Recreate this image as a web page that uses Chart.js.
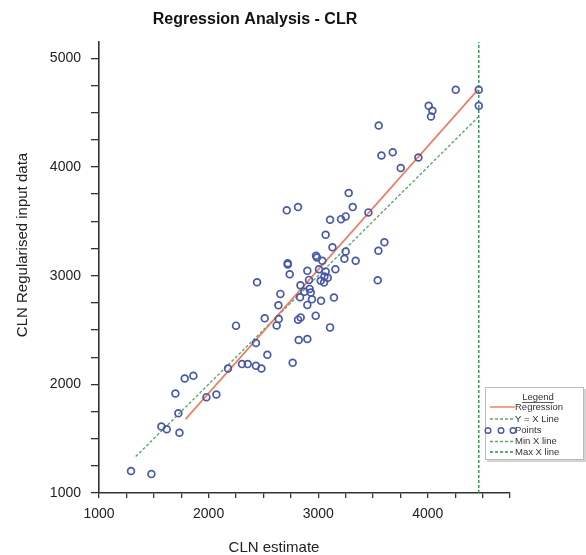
<!DOCTYPE html>
<html>
<head>
<meta charset="utf-8">
<script src="https://cdn.jsdelivr.net/npm/chart.js@4"></script>
<style>
  body { margin: 0; background: #fff; }
  #wrap { width: 586px; height: 555px; }
</style>
</head>
<body>
<div id="wrap"><canvas id="regChart" width="586" height="555"></canvas></div>
<script>
// CLN estimate (x) vs CLN regularised input data (y)
const estX = [
    1292, 1478, 1569, 1618, 1734, 1724, 1697, 1782, 1861, 1980,
    2071, 2177, 2305, 2357, 2432, 2482, 2536, 2767, 2432, 2822,
    2901, 2250, 2621, 3108, 2512, 2640, 2840, 2816, 2977, 2637,
    2901, 2655, 2834, 2943, 3026, 3144, 2874, 2932, 2922, 2838,
    2442, 2916, 3023, 3053, 3057, 3087, 2740, 2901, 3007, 3068,
    3157, 3543, 2722, 2722, 2980, 2989, 3038, 3239, 3342, 3130,
    3251, 3549, 3604, 3068, 3108, 3208, 3251, 3458, 3315, 3278,
    2713, 2816, 3753, 3914, 3577, 3680, 3552, 4008, 4042, 4029,
    4255, 4465, 4465
];
const inputY = [
    1202, 1174, 1611, 1587, 1555, 1734, 1915, 2054, 2078, 1882,
    1906, 2146, 2186, 2186, 2171, 2146, 2272, 2198, 2380, 2408,
    2417, 2540, 2542, 2524, 2607, 2601, 2616, 2595, 2632, 2727,
    2731, 2832, 2801, 2782, 2768, 2798, 2853, 2844, 2878, 2911,
    2939, 2961, 2952, 2936, 2992, 2980, 3013, 3044, 3059, 3038,
    3059, 2958, 3114, 3102, 3183, 3167, 3137, 3155, 3137, 3262,
    3222, 3229, 3308, 3376, 3515, 3520, 3545, 3582, 3631, 3760,
    3601, 3631, 3991, 4087, 4105, 4136, 4382, 4563, 4517, 4465,
    4710, 4710, 4563
];

// line end points
const regX = [1790, 4458];
const regY = [1680, 4712];
const yxX = [1335, 4460];
const maxX = 4465;
const maxLineY = [1000, 5150];

const legendItems = ['Regression', 'Y = X Line', 'Points', 'Min X line', 'Max X line'];

const ptColor = '#4a58a8';
const regColor = '#f07a5e';
const greenLight = '#5aa872';
const greenDark = '#2f8f50';

function pairs(xs, ys) {
    return xs.map(function(x, i) { return { x: x, y: ys[i] }; });
}

const extras = {
    id: 'extras',
    afterDraw: function(chart) {
        const ctx = chart.ctx;
        ctx.save();
        // axis titles
        ctx.fillStyle = '#222';
        ctx.font = '15px "Liberation Sans", Arial, sans-serif';
        ctx.textAlign = 'center';
        ctx.textBaseline = 'middle';
        ctx.fillText('CLN estimate', 274, 548);
        ctx.translate(22.5, 245);
        ctx.rotate(-Math.PI / 2);
        ctx.fillText('CLN Regularised input data', 0, 0);
        ctx.restore();

        // legend box
        ctx.save();
        const bx = 485, by = 387, bw = 99, bh = 73;
        ctx.fillStyle = '#d4d4d4';
        ctx.fillRect(bx + 2, by + 2, bw, bh);
        ctx.fillStyle = '#fff';
        ctx.fillRect(bx, by, bw, bh);
        ctx.strokeStyle = '#bbb';
        ctx.lineWidth = 1;
        ctx.strokeRect(bx + 0.5, by + 0.5, bw - 1, bh - 1);

        ctx.fillStyle = '#333';
        ctx.font = '9.5px "Liberation Sans", Arial, sans-serif';
        ctx.textAlign = 'center';
        ctx.textBaseline = 'middle';
        ctx.fillText('Legend', 538, 397);
        const lw = ctx.measureText('Legend').width;
        ctx.fillRect(538 - lw / 2, 402, lw, 0.8);

        ctx.textAlign = 'left';
        const rows = [407, 419, 430.5, 441.5, 452];
        legendItems.forEach(function(label, i) {
            const y = rows[i];
            ctx.fillStyle = '#333';
            ctx.fillText(label, 515, y);
            if (label === 'Points') {
                ctx.strokeStyle = ptColor;
                ctx.lineWidth = 1.4;
                [488, 501, 513].forEach(function(cx) {
                    ctx.beginPath();
                    ctx.arc(cx, y, 2.8, 0, Math.PI * 2);
                    ctx.stroke();
                });
            } else {
                ctx.beginPath();
                ctx.lineWidth = 1.4;
                if (label === 'Regression') {
                    ctx.strokeStyle = regColor;
                    ctx.setLineDash([]);
                } else {
                    ctx.strokeStyle = label === 'Max X line' ? greenDark : greenLight;
                    ctx.setLineDash([3, 2]);
                }
                ctx.moveTo(490, y);
                ctx.lineTo(515, y);
                ctx.stroke();
                ctx.setLineDash([]);
            }
        });
        ctx.restore();
    }
};

function keepSteps(axis) {
    axis.ticks = axis.ticks.filter(function(t) { return t.value % 250 === 0; });
}

function thousands(v) {
    return v % 1000 === 0 ? v : '';
}

document.addEventListener('DOMContentLoaded', function() {
    const ctx = document.getElementById('regChart').getContext('2d');

    new Chart(ctx, {
        type: 'scatter',
        data: {
            datasets: [{
                label: 'Points',
                data: pairs(estX, inputY),
                pointStyle: 'circle',
                pointRadius: 3.4,
                borderWidth: 1.7,
                borderColor: ptColor,
                backgroundColor: 'rgba(255,255,255,0)'
            }, {
                label: 'Regression',
                data: pairs(regX, regY),
                showLine: true,
                pointRadius: 0,
                borderColor: regColor,
                borderWidth: 1.6
            }, {
                label: 'Y = X Line',
                data: pairs(yxX, yxX),
                showLine: true,
                pointRadius: 0,
                borderColor: greenLight,
                borderWidth: 1.4,
                borderDash: [3, 2]
            }, {
                label: 'Max X line',
                data: pairs([maxX, maxX], maxLineY),
                showLine: true,
                pointRadius: 0,
                borderColor: greenDark,
                borderWidth: 1.4,
                borderDash: [3, 2]
            }]
        },
        options: {
            responsive: false,
            animation: false,
            events: [],
            layout: {
                padding: { left: 0, right: 76, top: 0, bottom: 0 }
            },
            scales: {
                x: {
                    type: 'linear',
                    min: 1000,
                    max: 4750,
                    afterBuildTicks: keepSteps,
                    afterFit: function(scale) { scale.height = 62; },
                    border: { color: '#333', width: 1.6 },
                    grid: {
                        drawOnChartArea: false,
                        drawTicks: true,
                        tickLength: 5,
                        color: '#333',
                        lineWidth: 1.3
                    },
                    ticks: {
                        stepSize: 250,
                        autoSkip: false,
                        maxRotation: 0,
                        padding: 8,
                        color: '#222',
                        font: { family: '"Liberation Sans", Arial, sans-serif', size: 14 },
                        callback: thousands
                    }
                },
                y: {
                    type: 'linear',
                    min: 1000,
                    max: 5150,
                    afterBuildTicks: keepSteps,
                    afterFit: function(scale) { scale.width = 99; },
                    border: { color: '#333', width: 1.6 },
                    grid: {
                        drawOnChartArea: false,
                        drawTicks: true,
                        tickLength: 8,
                        color: '#333',
                        lineWidth: 1.3
                    },
                    ticks: {
                        stepSize: 250,
                        autoSkip: false,
                        padding: 10,
                        color: '#222',
                        font: { family: '"Liberation Sans", Arial, sans-serif', size: 14 },
                        callback: thousands
                    }
                }
            },
            plugins: {
                legend: { display: false },
                tooltip: { enabled: false },
                title: {
                    display: true,
                    text: 'Regression Analysis - CLR',
                    color: '#111',
                    font: { family: '"Liberation Sans", Arial, sans-serif', size: 16, weight: 'bold' },
                    padding: { top: 10, bottom: 12.8 }
                }
            }
        },
        plugins: [extras]
    });
});
</script>
</body>
</html>
